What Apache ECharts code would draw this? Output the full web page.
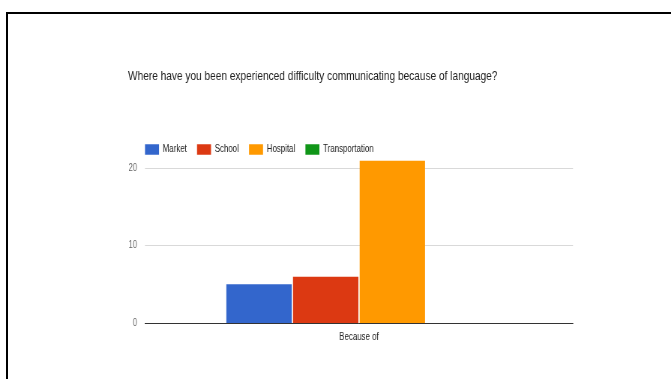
<!DOCTYPE html>
<html><head><meta charset="utf-8">
<script src="https://cdn.jsdelivr.net/npm/echarts@6/dist/echarts.min.js"></script>
<style>
html,body{margin:0;padding:0;background:#fff;overflow:hidden}
#wrap{position:relative;width:671px;height:379px;overflow:hidden;background:#fff}
#c{position:absolute;left:0;top:0;width:895px;height:379px;transform:scaleX(0.749720670);transform-origin:0 0}
#frame{position:absolute;left:6px;top:12px;width:700px;height:400px;border-left:2px solid #000;border-top:2px solid #000;pointer-events:none}
</style>
</head><body><div id="wrap"><div id="c"></div><div id="frame"></div></div>
<script>
const titleText = 'Where have you been experienced difficulty communicating because of language?';
const categories = ['Because of'];
const seriesNames = ['Market', 'School', 'Hospital', 'Transportation'];
const market = [5];
const school = [6];
const hospital = [21];
const transportation = [0];
const yTicks = [0, 10, 20];

// the reference screenshot is horizontally compressed; draw wide, then squeeze
const S = 671 / 895;
const X = px => px / S;
const FONT = '"Liberation Sans", Arial, sans-serif';
const colors = ['#3366cc', '#dc3912', '#ff9900', '#109618'];
const values = [market, school, hospital, transportation];

const chart = echarts.init(document.getElementById('c'), null, {renderer: 'canvas'});
chart.setOption({
  animation: false,
  backgroundColor: '#fff',
  color: colors,
  title: {
    text: titleText, left: X(128) - 5, top: 64,
    textStyle: {fontFamily: FONT, fontSize: 13.5, fontWeight: 'normal', color: '#222'}
  },
  legend: {
    left: X(145) - 5, top: 139, itemWidth: X(14), itemHeight: 10.5, itemGap: 13.6,
    icon: 'rect',
    textStyle: {fontFamily: FONT, fontSize: 10.5, color: '#222'},
    data: seriesNames
  },
  grid: {left: X(145), right: 895 - X(573), top: 129.8, bottom: 56, containLabel: false},
  xAxis: {
    type: 'category', data: categories,
    axisLine: {lineStyle: {color: '#333', width: 1}},
    axisTick: {show: false},
    axisLabel: {fontFamily: FONT, fontSize: 10.5, color: '#222', margin: 9}
  },
  yAxis: {
    type: 'value', min: 0, max: 25, interval: 10,
    axisLine: {show: false}, axisTick: {show: false},
    axisLabel: {fontFamily: FONT, fontSize: 10, color: '#666', margin: X(8), showMaxLabel: false,
      formatter: v => yTicks.includes(v) ? String(v) : ''},
    splitLine: {lineStyle: {color: '#d9d9d9'}, showMaxLine: false}
  },
  series: seriesNames.map((n, i) => ({
    name: n, type: 'bar', data: values[i],
    barGap: '2%', barCategoryGap: '38%'
  }))
});
</script></body></html>
